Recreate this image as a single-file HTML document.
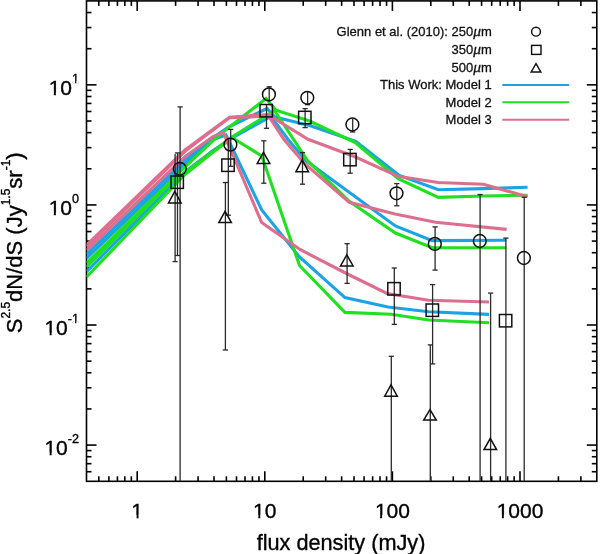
<!DOCTYPE html>
<html><head><meta charset="utf-8"><style>
html,body{margin:0;padding:0;background:#fff;}
body{width:600px;height:554px;overflow:hidden;font-family:"Liberation Sans",sans-serif;}
svg{display:block;} text{filter:grayscale(1);}
</style></head><body>
<svg width="600" height="554" viewBox="0 0 600 554"><defs><clipPath id="c"><rect x="86.5" y="0.9" width="510.29999999999995" height="480.40000000000003"/></clipPath></defs><g stroke="#000" stroke-width="1.6" fill="none"><rect x="86.5" y="0.9" width="510.29999999999995" height="480.40000000000003" fill="none"/><line x1="98.79" y1="481.3" x2="98.79" y2="476.3"/><line x1="98.79" y1="0.9" x2="98.79" y2="5.9"/><line x1="108.89" y1="481.3" x2="108.89" y2="476.3"/><line x1="108.89" y1="0.9" x2="108.89" y2="5.9"/><line x1="117.43" y1="481.3" x2="117.43" y2="476.3"/><line x1="117.43" y1="0.9" x2="117.43" y2="5.9"/><line x1="124.83" y1="481.3" x2="124.83" y2="476.3"/><line x1="124.83" y1="0.9" x2="124.83" y2="5.9"/><line x1="131.36" y1="481.3" x2="131.36" y2="476.3"/><line x1="131.36" y1="0.9" x2="131.36" y2="5.9"/><line x1="137.20" y1="481.3" x2="137.20" y2="471.3"/><line x1="137.20" y1="0.9" x2="137.20" y2="10.9"/><line x1="175.61" y1="481.3" x2="175.61" y2="476.3"/><line x1="175.61" y1="0.9" x2="175.61" y2="5.9"/><line x1="198.08" y1="481.3" x2="198.08" y2="476.3"/><line x1="198.08" y1="0.9" x2="198.08" y2="5.9"/><line x1="214.02" y1="481.3" x2="214.02" y2="476.3"/><line x1="214.02" y1="0.9" x2="214.02" y2="5.9"/><line x1="226.39" y1="481.3" x2="226.39" y2="476.3"/><line x1="226.39" y1="0.9" x2="226.39" y2="5.9"/><line x1="236.49" y1="481.3" x2="236.49" y2="476.3"/><line x1="236.49" y1="0.9" x2="236.49" y2="5.9"/><line x1="245.03" y1="481.3" x2="245.03" y2="476.3"/><line x1="245.03" y1="0.9" x2="245.03" y2="5.9"/><line x1="252.43" y1="481.3" x2="252.43" y2="476.3"/><line x1="252.43" y1="0.9" x2="252.43" y2="5.9"/><line x1="258.96" y1="481.3" x2="258.96" y2="476.3"/><line x1="258.96" y1="0.9" x2="258.96" y2="5.9"/><line x1="264.80" y1="481.3" x2="264.80" y2="471.3"/><line x1="264.80" y1="0.9" x2="264.80" y2="10.9"/><line x1="303.21" y1="481.3" x2="303.21" y2="476.3"/><line x1="303.21" y1="0.9" x2="303.21" y2="5.9"/><line x1="325.68" y1="481.3" x2="325.68" y2="476.3"/><line x1="325.68" y1="0.9" x2="325.68" y2="5.9"/><line x1="341.62" y1="481.3" x2="341.62" y2="476.3"/><line x1="341.62" y1="0.9" x2="341.62" y2="5.9"/><line x1="353.99" y1="481.3" x2="353.99" y2="476.3"/><line x1="353.99" y1="0.9" x2="353.99" y2="5.9"/><line x1="364.09" y1="481.3" x2="364.09" y2="476.3"/><line x1="364.09" y1="0.9" x2="364.09" y2="5.9"/><line x1="372.63" y1="481.3" x2="372.63" y2="476.3"/><line x1="372.63" y1="0.9" x2="372.63" y2="5.9"/><line x1="380.03" y1="481.3" x2="380.03" y2="476.3"/><line x1="380.03" y1="0.9" x2="380.03" y2="5.9"/><line x1="386.56" y1="481.3" x2="386.56" y2="476.3"/><line x1="386.56" y1="0.9" x2="386.56" y2="5.9"/><line x1="392.40" y1="481.3" x2="392.40" y2="471.3"/><line x1="392.40" y1="0.9" x2="392.40" y2="10.9"/><line x1="430.81" y1="481.3" x2="430.81" y2="476.3"/><line x1="430.81" y1="0.9" x2="430.81" y2="5.9"/><line x1="453.28" y1="481.3" x2="453.28" y2="476.3"/><line x1="453.28" y1="0.9" x2="453.28" y2="5.9"/><line x1="469.22" y1="481.3" x2="469.22" y2="476.3"/><line x1="469.22" y1="0.9" x2="469.22" y2="5.9"/><line x1="481.59" y1="481.3" x2="481.59" y2="476.3"/><line x1="481.59" y1="0.9" x2="481.59" y2="5.9"/><line x1="491.69" y1="481.3" x2="491.69" y2="476.3"/><line x1="491.69" y1="0.9" x2="491.69" y2="5.9"/><line x1="500.23" y1="481.3" x2="500.23" y2="476.3"/><line x1="500.23" y1="0.9" x2="500.23" y2="5.9"/><line x1="507.63" y1="481.3" x2="507.63" y2="476.3"/><line x1="507.63" y1="0.9" x2="507.63" y2="5.9"/><line x1="514.16" y1="481.3" x2="514.16" y2="476.3"/><line x1="514.16" y1="0.9" x2="514.16" y2="5.9"/><line x1="520.00" y1="481.3" x2="520.00" y2="471.3"/><line x1="520.00" y1="0.9" x2="520.00" y2="10.9"/><line x1="558.41" y1="481.3" x2="558.41" y2="476.3"/><line x1="558.41" y1="0.9" x2="558.41" y2="5.9"/><line x1="580.88" y1="481.3" x2="580.88" y2="476.3"/><line x1="580.88" y1="0.9" x2="580.88" y2="5.9"/><line x1="86.5" y1="471.73" x2="91.5" y2="471.73"/><line x1="596.8" y1="471.73" x2="591.8" y2="471.73"/><line x1="86.5" y1="463.69" x2="91.5" y2="463.69"/><line x1="596.8" y1="463.69" x2="591.8" y2="463.69"/><line x1="86.5" y1="456.73" x2="91.5" y2="456.73"/><line x1="596.8" y1="456.73" x2="591.8" y2="456.73"/><line x1="86.5" y1="450.58" x2="91.5" y2="450.58"/><line x1="596.8" y1="450.58" x2="591.8" y2="450.58"/><line x1="86.5" y1="445.09" x2="96.5" y2="445.09"/><line x1="596.8" y1="445.09" x2="586.8" y2="445.09"/><line x1="86.5" y1="408.94" x2="91.5" y2="408.94"/><line x1="596.8" y1="408.94" x2="591.8" y2="408.94"/><line x1="86.5" y1="387.80" x2="91.5" y2="387.80"/><line x1="596.8" y1="387.80" x2="591.8" y2="387.80"/><line x1="86.5" y1="372.79" x2="91.5" y2="372.79"/><line x1="596.8" y1="372.79" x2="591.8" y2="372.79"/><line x1="86.5" y1="361.16" x2="91.5" y2="361.16"/><line x1="596.8" y1="361.16" x2="591.8" y2="361.16"/><line x1="86.5" y1="351.65" x2="91.5" y2="351.65"/><line x1="596.8" y1="351.65" x2="591.8" y2="351.65"/><line x1="86.5" y1="343.61" x2="91.5" y2="343.61"/><line x1="596.8" y1="343.61" x2="591.8" y2="343.61"/><line x1="86.5" y1="336.65" x2="91.5" y2="336.65"/><line x1="596.8" y1="336.65" x2="591.8" y2="336.65"/><line x1="86.5" y1="330.50" x2="91.5" y2="330.50"/><line x1="596.8" y1="330.50" x2="591.8" y2="330.50"/><line x1="86.5" y1="325.01" x2="96.5" y2="325.01"/><line x1="596.8" y1="325.01" x2="586.8" y2="325.01"/><line x1="86.5" y1="288.86" x2="91.5" y2="288.86"/><line x1="596.8" y1="288.86" x2="591.8" y2="288.86"/><line x1="86.5" y1="267.72" x2="91.5" y2="267.72"/><line x1="596.8" y1="267.72" x2="591.8" y2="267.72"/><line x1="86.5" y1="252.71" x2="91.5" y2="252.71"/><line x1="596.8" y1="252.71" x2="591.8" y2="252.71"/><line x1="86.5" y1="241.08" x2="91.5" y2="241.08"/><line x1="596.8" y1="241.08" x2="591.8" y2="241.08"/><line x1="86.5" y1="231.57" x2="91.5" y2="231.57"/><line x1="596.8" y1="231.57" x2="591.8" y2="231.57"/><line x1="86.5" y1="223.53" x2="91.5" y2="223.53"/><line x1="596.8" y1="223.53" x2="591.8" y2="223.53"/><line x1="86.5" y1="216.57" x2="91.5" y2="216.57"/><line x1="596.8" y1="216.57" x2="591.8" y2="216.57"/><line x1="86.5" y1="210.42" x2="91.5" y2="210.42"/><line x1="596.8" y1="210.42" x2="591.8" y2="210.42"/><line x1="86.5" y1="204.93" x2="96.5" y2="204.93"/><line x1="596.8" y1="204.93" x2="586.8" y2="204.93"/><line x1="86.5" y1="168.78" x2="91.5" y2="168.78"/><line x1="596.8" y1="168.78" x2="591.8" y2="168.78"/><line x1="86.5" y1="147.64" x2="91.5" y2="147.64"/><line x1="596.8" y1="147.64" x2="591.8" y2="147.64"/><line x1="86.5" y1="132.63" x2="91.5" y2="132.63"/><line x1="596.8" y1="132.63" x2="591.8" y2="132.63"/><line x1="86.5" y1="121.00" x2="91.5" y2="121.00"/><line x1="596.8" y1="121.00" x2="591.8" y2="121.00"/><line x1="86.5" y1="111.49" x2="91.5" y2="111.49"/><line x1="596.8" y1="111.49" x2="591.8" y2="111.49"/><line x1="86.5" y1="103.45" x2="91.5" y2="103.45"/><line x1="596.8" y1="103.45" x2="591.8" y2="103.45"/><line x1="86.5" y1="96.49" x2="91.5" y2="96.49"/><line x1="596.8" y1="96.49" x2="591.8" y2="96.49"/><line x1="86.5" y1="90.34" x2="91.5" y2="90.34"/><line x1="596.8" y1="90.34" x2="591.8" y2="90.34"/><line x1="86.5" y1="84.85" x2="96.5" y2="84.85"/><line x1="596.8" y1="84.85" x2="586.8" y2="84.85"/><line x1="86.5" y1="48.70" x2="91.5" y2="48.70"/><line x1="596.8" y1="48.70" x2="591.8" y2="48.70"/><line x1="86.5" y1="27.56" x2="91.5" y2="27.56"/><line x1="596.8" y1="27.56" x2="591.8" y2="27.56"/><line x1="86.5" y1="12.55" x2="91.5" y2="12.55"/><line x1="596.8" y1="12.55" x2="591.8" y2="12.55"/></g><g clip-path="url(#c)" fill="none" stroke-width="3.1" stroke-linejoin="miter" stroke-linecap="butt"><polyline stroke="#1ba3e3" points="86.5,254.3 185.0,160.5 213.0,137.8 228.0,127.3 267.0,108.5 275.0,117.0 309.5,125.5 355.8,141.4 399.3,175.5 438.4,189.8 483.4,188.6 527.6,187.3"/><polyline stroke="#1ba3e3" points="86.5,258.3 185.0,164.0 213.0,139.5 226.0,135.0 261.7,209.9 299.5,257.0 345.0,297.6 388.0,307.0 428.6,311.8 489.0,314.4"/><polyline stroke="#1ba3e3" points="86.5,271.6 185.0,172.0 213.0,150.5 233.0,137.4 271.0,116.5 288.5,140.0 305.8,160.5 349.2,192.3 395.4,226.0 432.3,240.6 506.2,240.2"/><polyline stroke="#20e020" points="86.5,263.1 185.0,167.0 213.0,140.5 228.0,128.3 266.0,98.5 276.0,110.2 309.5,121.0 355.2,142.5 398.2,178.7 438.4,197.4 483.4,196.0 527.6,195.2"/><polyline stroke="#20e020" points="86.5,267.0 168.0,185.3 185.0,172.5 213.0,151.5 232.3,136.8 274.5,110.5 307.5,160.5 349.2,201.4 395.4,233.0 432.3,247.7 506.2,247.8"/><polyline stroke="#20e020" points="86.5,276.9 185.0,174.5 213.0,152.2 232.3,137.8 261.8,156.0 299.5,265.5 345.0,312.4 391.2,314.3 428.6,320.0 489.0,322.7"/><polyline stroke="#dd6f8e" points="86.5,245.1 185.0,150.0 205.0,135.2 229.5,117.3 268.0,114.5 308.0,139.3 355.5,157.0 398.0,176.3 438.0,182.5 483.4,184.2 527.6,196.8"/><polyline stroke="#dd6f8e" points="86.5,246.8 185.0,151.3 205.0,136.0 229.5,117.8 268.5,116.0 284.0,139.5 304.5,163.5 349.2,202.3 395.0,214.0 435.5,222.2 506.7,229.4"/><polyline stroke="#dd6f8e" points="86.5,250.4 185.0,156.6 213.0,136.6 223.3,132.4 261.7,222.5 300.0,249.5 345.5,273.0 387.0,293.5 428.6,300.2 489.0,302.0"/></g><g stroke="#2a2a2a" stroke-width="1.3" fill="none"><line x1="180.1" y1="106.9" x2="180.1" y2="481.3"/><line x1="177.5" y1="106.9" x2="182.7" y2="106.9"/><line x1="230.7" y1="129.4" x2="230.7" y2="166.3"/><line x1="228.1" y1="129.4" x2="233.29999999999998" y2="129.4"/><line x1="228.1" y1="166.3" x2="233.29999999999998" y2="166.3"/><line x1="269.2" y1="86.8" x2="269.2" y2="102.0"/><line x1="266.59999999999997" y1="86.8" x2="271.8" y2="86.8"/><line x1="307.6" y1="91.0" x2="307.6" y2="104.7"/><line x1="305.0" y1="104.7" x2="310.20000000000005" y2="104.7"/><line x1="352.7" y1="118.8" x2="352.7" y2="132.0"/><line x1="350.09999999999997" y1="132.0" x2="355.3" y2="132.0"/><line x1="396.8" y1="183.6" x2="396.8" y2="205.8"/><line x1="394.2" y1="183.6" x2="399.40000000000003" y2="183.6"/><line x1="394.2" y1="205.8" x2="399.40000000000003" y2="205.8"/><line x1="435.1" y1="226.9" x2="435.1" y2="270.1"/><line x1="432.5" y1="226.9" x2="437.70000000000005" y2="226.9"/><line x1="432.5" y1="270.1" x2="437.70000000000005" y2="270.1"/><line x1="480.1" y1="194.5" x2="480.1" y2="481.3"/><line x1="477.5" y1="194.5" x2="482.70000000000005" y2="194.5"/><line x1="524.2" y1="197.3" x2="524.2" y2="481.3"/><line x1="521.6" y1="197.3" x2="526.8000000000001" y2="197.3"/><line x1="177.5" y1="152.9" x2="177.5" y2="255.5"/><line x1="174.9" y1="152.9" x2="180.1" y2="152.9"/><line x1="174.9" y1="255.5" x2="180.1" y2="255.5"/><line x1="228.3" y1="139.5" x2="228.3" y2="215.2"/><line x1="225.70000000000002" y1="215.2" x2="230.9" y2="215.2"/><line x1="266.5" y1="104.0" x2="266.5" y2="128.3"/><line x1="263.9" y1="128.3" x2="269.1" y2="128.3"/><line x1="305.1" y1="108.6" x2="305.1" y2="127.6"/><line x1="302.5" y1="108.6" x2="307.70000000000005" y2="108.6"/><line x1="302.5" y1="127.6" x2="307.70000000000005" y2="127.6"/><line x1="350.2" y1="149.4" x2="350.2" y2="173.2"/><line x1="347.59999999999997" y1="149.4" x2="352.8" y2="149.4"/><line x1="347.59999999999997" y1="173.2" x2="352.8" y2="173.2"/><line x1="394.3" y1="268.0" x2="394.3" y2="324.4"/><line x1="391.7" y1="268.0" x2="396.90000000000003" y2="268.0"/><line x1="391.7" y1="324.4" x2="396.90000000000003" y2="324.4"/><line x1="432.6" y1="284.6" x2="432.6" y2="363.9"/><line x1="430.0" y1="284.6" x2="435.20000000000005" y2="284.6"/><line x1="430.0" y1="363.9" x2="435.20000000000005" y2="363.9"/><line x1="505.9" y1="238.1" x2="505.9" y2="481.3"/><line x1="503.29999999999995" y1="238.1" x2="508.5" y2="238.1"/><line x1="175.1" y1="154.0" x2="175.1" y2="261.6"/><line x1="172.5" y1="261.6" x2="177.7" y2="261.6"/><line x1="225.4" y1="182.5" x2="225.4" y2="350.0"/><line x1="222.8" y1="182.5" x2="228.0" y2="182.5"/><line x1="222.8" y1="350.0" x2="228.0" y2="350.0"/><line x1="263.8" y1="140.8" x2="263.8" y2="183.2"/><line x1="261.2" y1="140.8" x2="266.40000000000003" y2="140.8"/><line x1="261.2" y1="183.2" x2="266.40000000000003" y2="183.2"/><line x1="302.5" y1="152.6" x2="302.5" y2="184.2"/><line x1="299.9" y1="152.6" x2="305.1" y2="152.6"/><line x1="299.9" y1="184.2" x2="305.1" y2="184.2"/><line x1="347.1" y1="243.7" x2="347.1" y2="283.4"/><line x1="344.5" y1="243.7" x2="349.70000000000005" y2="243.7"/><line x1="344.5" y1="283.4" x2="349.70000000000005" y2="283.4"/><line x1="391.3" y1="356.3" x2="391.3" y2="481.3"/><line x1="388.7" y1="356.3" x2="393.90000000000003" y2="356.3"/><line x1="430.3" y1="344.9" x2="430.3" y2="481.3"/><line x1="427.7" y1="344.9" x2="432.90000000000003" y2="344.9"/><line x1="490.6" y1="293.1" x2="490.6" y2="481.3"/><line x1="488.0" y1="293.1" x2="493.20000000000005" y2="293.1"/></g><g stroke="#111" stroke-width="1.5" fill="none"><circle cx="179.8" cy="168.8" r="6.4"/><circle cx="230.4" cy="144.6" r="6.4"/><circle cx="268.9" cy="94.4" r="6.4"/><circle cx="307.3" cy="97.8" r="6.4"/><circle cx="352.4" cy="124.5" r="6.4"/><circle cx="396.5" cy="193.3" r="6.4"/><circle cx="434.8" cy="243.9" r="6.4"/><circle cx="479.8" cy="241.0" r="6.4"/><circle cx="523.9" cy="258.0" r="6.4"/><rect x="171.00" y="176.00" width="12.4" height="12.4"/><rect x="221.80" y="159.00" width="12.4" height="12.4"/><rect x="260.00" y="104.50" width="12.4" height="12.4"/><rect x="298.60" y="111.30" width="12.4" height="12.4"/><rect x="343.70" y="153.40" width="12.4" height="12.4"/><rect x="387.80" y="282.60" width="12.4" height="12.4"/><rect x="426.10" y="304.00" width="12.4" height="12.4"/><rect x="499.40" y="314.50" width="12.4" height="12.4"/><path d="M174.8,191.4 L181.10000000000002,202.9 L168.5,202.9 Z"/><path d="M225.1,211.3 L231.4,222.60000000000002 L218.79999999999998,222.60000000000002 Z"/><path d="M263.5,152.3 L269.8,163.5 L257.2,163.5 Z"/><path d="M302.2,159.8 L308.5,171.8 L295.9,171.8 Z"/><path d="M346.8,254.8 L353.1,265.90000000000003 L340.5,265.90000000000003 Z"/><path d="M391.0,384.90000000000003 L397.3,396.2 L384.7,396.2 Z"/><path d="M430.0,409.7 L436.3,420.1 L423.7,420.1 Z"/><path d="M490.3,438.40000000000003 L496.6,449.6 L484.0,449.6 Z"/></g><g font-family="Liberation Sans, sans-serif" font-size="13" fill="#111" stroke="#111" stroke-width="0.3" text-anchor="end"><text x="491.8" y="35.9">Glenn et al. (2010): 250<tspan font-style="italic" font-family="Liberation Serif, serif" font-size="15.5">μ</tspan>m</text><text x="491.8" y="53.8">350<tspan font-style="italic" font-family="Liberation Serif, serif" font-size="15.5">μ</tspan>m</text><text x="491.8" y="71.8">500<tspan font-style="italic" font-family="Liberation Serif, serif" font-size="15.5">μ</tspan>m</text><text x="491.8" y="89">This Work: Model 1</text><text x="491.8" y="106.5">Model 2</text><text x="491.8" y="124">Model 3</text></g><g stroke="#111" stroke-width="1.45" fill="none"><circle cx="536" cy="31.7" r="4.4"/><rect x="531.6" y="45.4" width="9.4" height="9"/><path d="M536,63.6 L540.8,72 L531.2,72 Z"/></g><g stroke-width="2" fill="none"><line x1="502.3" y1="84.9" x2="569.2" y2="84.9" stroke="#1ba3e3"/><line x1="502.3" y1="102.3" x2="569.2" y2="102.3" stroke="#20e020"/><line x1="502.3" y1="119.7" x2="569.2" y2="119.7" stroke="#dd6f8e"/></g><g font-family="Liberation Sans, sans-serif" font-size="21" fill="#000" stroke="#000" stroke-width="0.35"><text x="79" y="95.1" text-anchor="end">10<tspan font-size="12.6" dy="-12.3">1</tspan></text><text x="79" y="215.1" text-anchor="end">10<tspan font-size="12.6" dy="-12.3">0</tspan></text><text x="79" y="335.2" text-anchor="end">10<tspan font-size="12.6" dy="-12.3">-1</tspan></text><text x="79" y="455.3" text-anchor="end">10<tspan font-size="12.6" dy="-12.3">-2</tspan></text><text x="137.2" y="517.7" text-anchor="middle">1</text><text x="264.8" y="517.7" text-anchor="middle">10</text><text x="392.4" y="517.7" text-anchor="middle">100</text><text x="520.0" y="517.7" text-anchor="middle">1000</text><text x="341" y="550" text-anchor="middle" font-size="21.7">flux density (mJy)</text><text transform="translate(21.8,333.3) rotate(-90)" font-size="22">S<tspan font-size="12" dy="-12">2.5</tspan><tspan dy="12">dN/dS (Jy</tspan><tspan font-size="12" dy="-12">1.5</tspan><tspan dy="12">sr</tspan><tspan font-size="12" dy="-12">-1</tspan><tspan dy="12">)</tspan></text></g><g fill="#fff"><rect x="49.45" y="92.55" width="4.39" height="4.10"/><rect x="55.84" y="92.55" width="4.17" height="4.10"/><rect x="72.48" y="81.25" width="2.63" height="2.46"/><rect x="76.32" y="81.25" width="2.50" height="2.46"/><rect x="49.45" y="212.63" width="4.39" height="4.10"/><rect x="55.84" y="212.63" width="4.17" height="4.10"/><rect x="45.26" y="332.71" width="4.39" height="4.10"/><rect x="51.65" y="332.71" width="4.17" height="4.10"/><rect x="72.48" y="321.41" width="2.63" height="2.46"/><rect x="76.32" y="321.41" width="2.50" height="2.46"/><rect x="45.26" y="452.79" width="4.39" height="4.10"/><rect x="51.65" y="452.79" width="4.17" height="4.10"/><rect x="132.18" y="515.20" width="4.39" height="4.10"/><rect x="138.57" y="515.20" width="4.17" height="4.10"/><rect x="253.94" y="515.20" width="4.39" height="4.10"/><rect x="260.33" y="515.20" width="4.17" height="4.10"/><rect x="375.70" y="515.20" width="4.39" height="4.10"/><rect x="382.09" y="515.20" width="4.17" height="4.10"/><rect x="497.46" y="515.20" width="4.39" height="4.10"/><rect x="503.85" y="515.20" width="4.17" height="4.10"/></g></svg>
</body></html>
